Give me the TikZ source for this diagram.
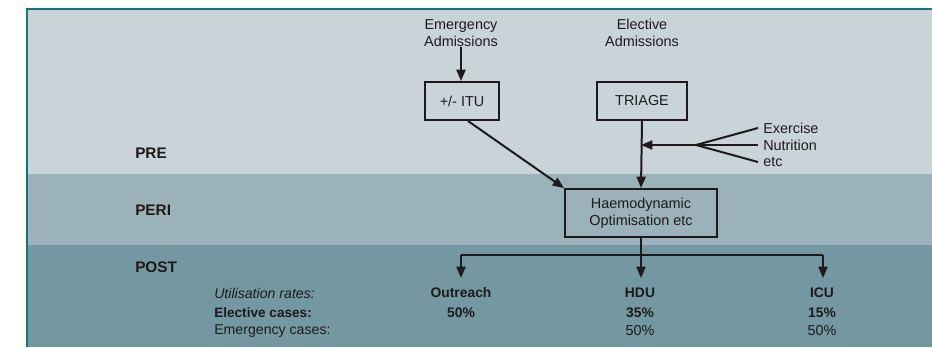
\documentclass[tikz,border=0pt]{standalone}
\usepackage{fontspec}
\setmainfont{Liberation Sans}
\usetikzlibrary{arrows.meta,calc}
\definecolor{preband}{HTML}{C9D4D8}
\definecolor{periband}{HTML}{9CB2BA}
\definecolor{postband}{HTML}{7498A2}
\definecolor{frameteal}{HTML}{16737E}
\definecolor{ink}{HTML}{1E1A1B}
\tikzset{
  px/.style={x=0.75pt,y=-0.75pt},
  body/.style={text=ink,font=\fontsize{10.8}{12.75}\selectfont,align=center,inner sep=0pt},
  stagelabel/.style={text=ink,font=\fontsize{11.5}{13}\selectfont\bfseries,anchor=west,inner sep=0pt},
  rowlabel/.style={text=ink,font=\fontsize{10.6}{12.5}\selectfont,anchor=west,inner sep=0pt},
  boldrate/.style={body,font=\fontsize{10.4}{12.5}\selectfont\bfseries},
  stagebox/.style={body,draw=ink,line width=1.5pt,minimum height=28.5pt},
  conn/.style={draw=ink,line width=1.5pt},
  arr/.style={conn,-{Triangle[length=8.5pt,width=6.8pt]}},
}
\begin{document}
\begin{tikzpicture}[px]
\useasboundingbox (0,0) rectangle (932,347);
% horizontal bands
\fill[preband]  (28,10)  rectangle (932,174);
\fill[periband] (28,174) rectangle (932,245);
\fill[postband] (28,245) rectangle (932,347);
% frame along the top and left edges
\draw[frameteal,line width=2pt] (27,347) -- (27,9) -- (932,9);

% stage labels
\node[stagelabel] (pre)  at (135,153) {PRE};
\node[stagelabel] (peri) at (135,210) {PERI};
\node[stagelabel] (post) at (135,267) {POST};

% admissions and first steps
\node[body] (emerg) at (461,33) {Emergency\\Admissions};
\node[body] (elect) at (642,33) {Elective\\Admissions};
\node[stagebox,minimum width=55.5pt] (itu) at (462,101) {+/- ITU};
\node[stagebox,minimum width=67.5pt] (triage) at (642,101) {TRIAGE};
\node[stagebox,minimum width=114pt,minimum height=36pt] (haemo) at (641,213)
  {Haemodynamic\\Optimisation etc};

% pre-operative measures
\node[body,anchor=west] (exer) at (763,128) {Exercise};
\node[body,anchor=west] (nutr) at (763,145) {Nutrition};
\node[body,anchor=west] (etc)  at (763,162) {etc};
\coordinate (fan)  at (696,145);
\coordinate (join) at (641,145);
\coordinate (exerend) at (758,128);
\coordinate (nutrend) at (758,145);
\coordinate (etcend)  at (758,162);

% post-operative destinations
\node[boldrate] (outreach) at (461,293) {Outreach};
\node[boldrate] (hdu)      at (640,293) {HDU};
\node[boldrate] (icu)      at (822,293) {ICU};
\node[boldrate] (outel) at (461,313) {50\%};
\node[boldrate] (hduel) at (640,313) {35\%};
\node[boldrate] (icuel) at (822,313) {15\%};
\node[body] (hduem) at (640,331) {50\%};
\node[body] (icuem) at (822,331) {50\%};
\node[rowlabel,font=\fontsize{10.6}{12.5}\selectfont\itshape] (util) at (214,293) {Utilisation rates:};
\node[rowlabel,font=\fontsize{10.2}{12.5}\selectfont\bfseries] (elcases) at (214,313) {Elective cases:};
\node[rowlabel] (emcases) at (214,331) {Emergency cases:};

\coordinate (split) at (641,255);
\coordinate (outtop) at (461,255);
\coordinate (icutop) at (823,255);
\coordinate (outtip) at (461,278);
\coordinate (hdutip) at (641,278);
\coordinate (icutip) at (823,278);

% connectors
\draw[arr] (emerg.south) -- (emerg.south |- itu.north);
\draw[arr] ($(itu.south)+(6,0)$) -- (haemo.north west);
\draw[arr] (triage.south) -- (haemo.north);
\draw[arr] (fan) -- (join);
\draw[conn] (exerend) -- (fan) -- (etcend);
\draw[conn] (nutrend) -- (fan);
\draw[conn] (haemo.south) -- (split);
\draw[conn] (outtop) -- (icutop);
\draw[arr] (outtop) -- (outtip);
\draw[arr] (split) -- (hdutip);
\draw[arr] (icutop) -- (icutip);
\end{tikzpicture}
\end{document}
